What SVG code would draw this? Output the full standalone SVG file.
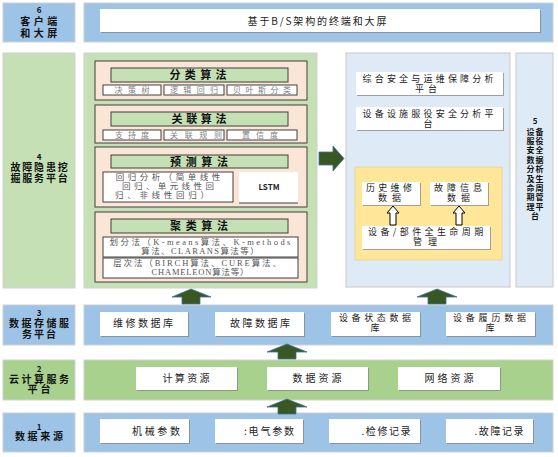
<svg xmlns="http://www.w3.org/2000/svg" width="558" height="457" viewBox="0 0 558 457">
<defs>
<filter id="sh" x="-5%" y="-5%" width="115%" height="130%"><feDropShadow dx="1" dy="1" stdDeviation="0.4" flood-color="#808080" flood-opacity="0.7"/></filter>
<style>
text{font-family:'Noto Sans CJK SC','Liberation Sans',sans-serif;text-anchor:middle}
.blue{fill:#9DC3E6;stroke:#D0D0D0;stroke-width:1}
.green{fill:#C5E0B4;stroke:#D0D0D0;stroke-width:1}
.green2{fill:#A9D18E;stroke:#D0D0D0;stroke-width:1}
.lblue{fill:#DEEBF7;stroke:#C8C8C8;stroke-width:1}
.peach{fill:#FBE5D6;stroke:#404040;stroke-width:1}
.bar{fill:#C5E0B4;stroke:#404040;stroke-width:1}
.sb{fill:#fff;stroke:#404040;stroke-width:1}
.wb{fill:#fff;filter:url(#sh)}
.yel{fill:#FFE699;stroke:#E0C870;stroke-width:0.5}
.lbl{font-size:10px;font-weight:bold;fill:#111}
.lbl5{font-size:8px;font-weight:bold;fill:#111;letter-spacing:1px}
.num{font-size:8px;font-weight:bold;fill:#111;letter-spacing:0}
.t{font-size:10px;fill:#222}
.t2{font-size:9px;fill:#222}
.ttl{font-size:11px;font-weight:bold;fill:#111}
.sub{font-size:8px;fill:#808080}
.ser{font-family:'Liberation Serif','Noto Sans CJK SC',serif;font-size:8.5px;fill:#555}
.arr{fill:#385723;stroke:#41719C;stroke-width:0.8}
.harr{fill:#fff;stroke:#000;stroke-width:1}
</style>
</defs>

<!-- Row 6 -->
<g id="label6">
<rect class="blue" x="3" y="3" width="72" height="39"/>
<text class="lbl" x="39" y="13"><tspan class="num" x="39">6</tspan><tspan x="40.5" dy="12" style="letter-spacing:3.5px">客户端</tspan><tspan x="40.5" dy="12" style="letter-spacing:3.5px">和大屏</tspan></text>
</g>
<g id="panel6">
<rect class="blue" x="84" y="3" width="469" height="39"/>
<rect class="wb" x="100" y="9" width="440" height="23"/>
<text class="t" x="317" y="24.5" textLength="139">基于B/S架构的终端和大屏</text>
</g>

<!-- Row 4 -->
<g id="label4">
<rect class="green" x="3" y="53" width="72" height="235"/>
<text class="lbl" x="39" y="160"><tspan class="num" x="39">4</tspan><tspan x="40" dy="11" style="letter-spacing:1.8px">故障隐患挖</tspan><tspan x="40" dy="11" style="letter-spacing:1.8px">掘服务平台</tspan></text>
</g>
<g id="panel4">
<rect class="green" x="84" y="53" width="233" height="235"/>
</g>
<g id="classify">
<rect class="peach" x="95" y="61" width="212" height="39"/>
<rect class="bar" x="111" y="68" width="177" height="14"/>
<text class="ttl" x="198" y="79" textLength="57">分类算法</text>
<rect class="sb" x="103" y="85" width="58" height="10"/>
<rect class="sb" x="164" y="85" width="60" height="10"/>
<rect class="sb" x="227" y="85" width="70" height="10"/>
<text class="sub" x="132" y="93" textLength="35">决策树</text>
<text class="sub" x="194" y="93" textLength="48">逻辑回归</text>
<text class="sub" x="262" y="93" textLength="58">贝叶斯分类</text>
</g>
<g id="associate">
<rect class="peach" x="95" y="105" width="212" height="38"/>
<rect class="bar" x="111" y="112" width="177" height="14"/>
<text class="ttl" x="199" y="123" textLength="55">关联算法</text>
<rect class="sb" x="103" y="130" width="58" height="10"/>
<rect class="sb" x="164" y="130" width="60" height="10"/>
<rect class="sb" x="227" y="130" width="70" height="10"/>
<text class="sub" x="132" y="138" textLength="34">支持度</text>
<text class="sub" x="196" y="138" textLength="52">关联规则</text>
<text class="sub" x="260" y="138" textLength="36">置信度</text>
</g>
<g id="predict">
<rect class="peach" x="95" y="147" width="212" height="60"/>
<rect class="bar" x="111" y="155" width="177" height="13"/>
<text class="ttl" x="199" y="165.5" textLength="58">预测算法</text>
<rect class="sb" x="103" y="172" width="130" height="30"/>
<text class="ser" x="168" y="180"><tspan x="169.7" style="letter-spacing:3.5px">回归分析（简单线性</tspan><tspan x="169.7" dy="9" style="letter-spacing:3.4px">回归、单元线性回</tspan><tspan x="163.8" dy="9" style="letter-spacing:3.7px">归、非线性回归）</tspan></text>
<rect x="239" y="172" width="59" height="31" fill="#fff"/>
<line x1="239" y1="203" x2="298" y2="203" stroke="#404040" stroke-width="1"/>
<text x="269" y="190" font-family="'Liberation Serif',serif" font-size="8" font-weight="bold" fill="#222">LSTM</text>
</g>
<g id="cluster">
<rect class="peach" x="95" y="212" width="212" height="70"/>
<rect class="bar" x="111" y="219" width="177" height="14"/>
<text class="ttl" x="199" y="230" textLength="58">聚类算法</text>
<rect class="sb" x="103" y="237" width="195" height="20"/>
<rect class="sb" x="103" y="258" width="195" height="20"/>
<text class="ser" x="200" y="245"><tspan x="201.2" style="letter-spacing:2.4px">划分法（K-means算法、K-methods</tspan><tspan x="200.7" dy="9" style="letter-spacing:1.4px">算法、CLARANS算法等）</tspan><tspan x="198" dy="12" style="letter-spacing:1.9px">层次法（BIRCH算法、CURE算法、</tspan><tspan x="200.5" dy="9" style="letter-spacing:0.8px">CHAMELEON算法等）</tspan></text>
</g>

<!-- Right panel -->
<g id="panel5">
<rect class="lblue" x="346" y="53" width="164" height="234"/>
</g>
<g id="safety-platform">
<rect class="wb" x="356" y="72" width="147" height="23"/>
<text class="t2" x="429" y="82"><tspan x="429.6" style="letter-spacing:3.2px">综合安全与运维保障分析</tspan><tspan x="428" dy="10" style="letter-spacing:4px">平台</tspan></text>
</g>
<g id="facility-platform">
<rect class="wb" x="356" y="107" width="147" height="23"/>
<text class="t2" x="429" y="116.5"><tspan x="429.6" style="letter-spacing:3.2px">设备设施服役安全分析平</tspan><tspan x="428" dy="10">台</tspan></text>
</g>
<g id="lifecycle">
<rect class="yel" x="355" y="167" width="147" height="93"/>
<rect class="wb" x="362" y="182" width="58" height="23"/>
<text class="t2" x="390" y="191"><tspan x="390.6" style="letter-spacing:3.3px">历史维修</tspan><tspan x="392" dy="10" style="letter-spacing:5px">数据</tspan></text>
<rect class="wb" x="430" y="182" width="58" height="23"/>
<text class="t2" x="459" y="191"><tspan x="460" style="letter-spacing:4px">故障信息</tspan><tspan x="461" dy="10" style="letter-spacing:5px">数据</tspan></text>
<rect class="wb" x="362" y="226" width="128" height="23"/>
<text class="t2" x="427" y="235"><tspan x="427.3" style="letter-spacing:3.4px">设备/部件全生命周期</tspan><tspan x="428" dy="10" style="letter-spacing:6px">管理</tspan></text>
</g>
<g id="label5">
<rect class="lblue" x="516" y="53" width="37" height="234"/>
<text class="lbl5" x="535" y="124"><tspan x="535" class="num">5</tspan><tspan x="535.5" dy="10.5">设备</tspan><tspan x="535.5" dy="9.4">服役</tspan><tspan x="535.5" dy="9.4">安全</tspan><tspan x="535.5" dy="9.4">数据</tspan><tspan x="535.5" dy="9.4">分析</tspan><tspan x="535.5" dy="9.4">及生</tspan><tspan x="535.5" dy="9.4">命周</tspan><tspan x="535.5" dy="9.4">期管</tspan><tspan x="535.5" dy="9.4">理平</tspan><tspan x="535.5" dy="9.4">台</tspan></text>
</g>

<!-- Row 3 -->
<g id="label3">
<rect class="blue" x="3" y="305" width="72" height="40"/>
<text class="lbl" x="39" y="316"><tspan class="num" x="39">3</tspan><tspan x="40.2" dy="11" style="letter-spacing:2.5px">数据存储服</tspan><tspan x="40" dy="10.5" style="letter-spacing:2px">务平台</tspan></text>
</g>
<g id="panel3">
<rect class="blue" x="84" y="305" width="469" height="40"/>
</g>
<g id="db-repair"><rect class="wb" x="100" y="312" width="88" height="24"/><text class="t" x="143" y="327" textLength="60">维修数据库</text></g>
<g id="db-fault"><rect class="wb" x="215" y="312" width="89" height="24"/><text class="t" x="260" y="327" textLength="60">故障数据库</text></g>
<g id="db-state"><rect class="wb" x="331" y="312" width="89" height="24"/><text class="t2" x="376" y="320.5"><tspan x="376.8" style="letter-spacing:3.6px">设备状态数据</tspan><tspan x="375" dy="10">库</tspan></text></g>
<g id="db-history"><rect class="wb" x="446" y="312" width="89" height="24"/><text class="t2" x="491" y="320.5"><tspan x="491.4" style="letter-spacing:3.8px">设备履历数据</tspan><tspan x="490" dy="10">库</tspan></text></g>

<!-- Row 2 -->
<g id="label2">
<rect class="green2" x="3" y="360" width="72" height="40"/>
<text class="lbl" x="39" y="372"><tspan class="num" x="39">2</tspan><tspan x="40.2" dy="10.5" style="letter-spacing:2.5px">云计算服务</tspan><tspan x="40.5" dy="10.5" style="letter-spacing:3px">平台</tspan></text>
</g>
<g id="panel2">
<rect class="green2" x="84" y="360" width="469" height="40"/>
</g>
<g id="res-compute"><rect class="wb" x="136" y="367" width="101" height="23"/><text class="t" x="186" y="382" textLength="47">计算资源</text></g>
<g id="res-data"><rect class="wb" x="267" y="367" width="101" height="23"/><text class="t" x="317" y="382" textLength="49">数据资源</text></g>
<g id="res-net"><rect class="wb" x="398" y="367" width="102" height="23"/><text class="t" x="449" y="382" textLength="49">网络资源</text></g>

<!-- Row 1 -->
<g id="label1">
<rect class="blue" x="3" y="413" width="72" height="39"/>
<text class="lbl" x="39" y="430"><tspan class="num" x="39">1</tspan><tspan x="40.3" dy="10" style="letter-spacing:2.7px">数据来源</tspan></text>
</g>
<g id="panel1">
<rect class="blue" x="84" y="413" width="469" height="39"/>
</g>
<g id="src-mech"><rect class="wb" x="100" y="419" width="89" height="24"/><text class="t" x="156" y="435" textLength="48">机械参数</text></g>
<g id="src-elec"><rect class="wb" x="215" y="419" width="88" height="24"/><text class="t" x="269" y="435" textLength="50">:电气参数</text></g>
<g id="src-maint"><rect class="wb" x="329" y="419" width="91" height="24"/><text class="t" x="386" y="435" textLength="49">.检修记录</text></g>
<g id="src-fault"><rect class="wb" x="446" y="419" width="87" height="24"/><text class="t" x="499" y="435" textLength="49">.故障记录</text></g>

<!-- Connectors -->
<g id="connectors">
<polygon class="arr" points="319,152 333,152 333,146 344,158.5 333,171 333,165 319,165"/>
<polygon class="arr" points="191,289 211,297 200,297 200,304 182,304 182,297 172,297"/>
<polygon class="arr" points="437,289 457,297 446,297 446,304 428,304 428,297 417,297"/>
<polygon class="arr" points="287,344 307,352 296,352 296,359 278,359 278,352 267,352"/>
<polygon class="arr" points="287,399 307,407 296,407 296,414 278,414 278,407 267,407"/>
<polygon class="harr" points="393,206 399,213 396,213 396,225 390,225 390,213 387,213"/>
<polygon class="harr" points="459,206 465,213 462,213 462,225 456,225 456,213 453,213"/>
</g>
</svg>
